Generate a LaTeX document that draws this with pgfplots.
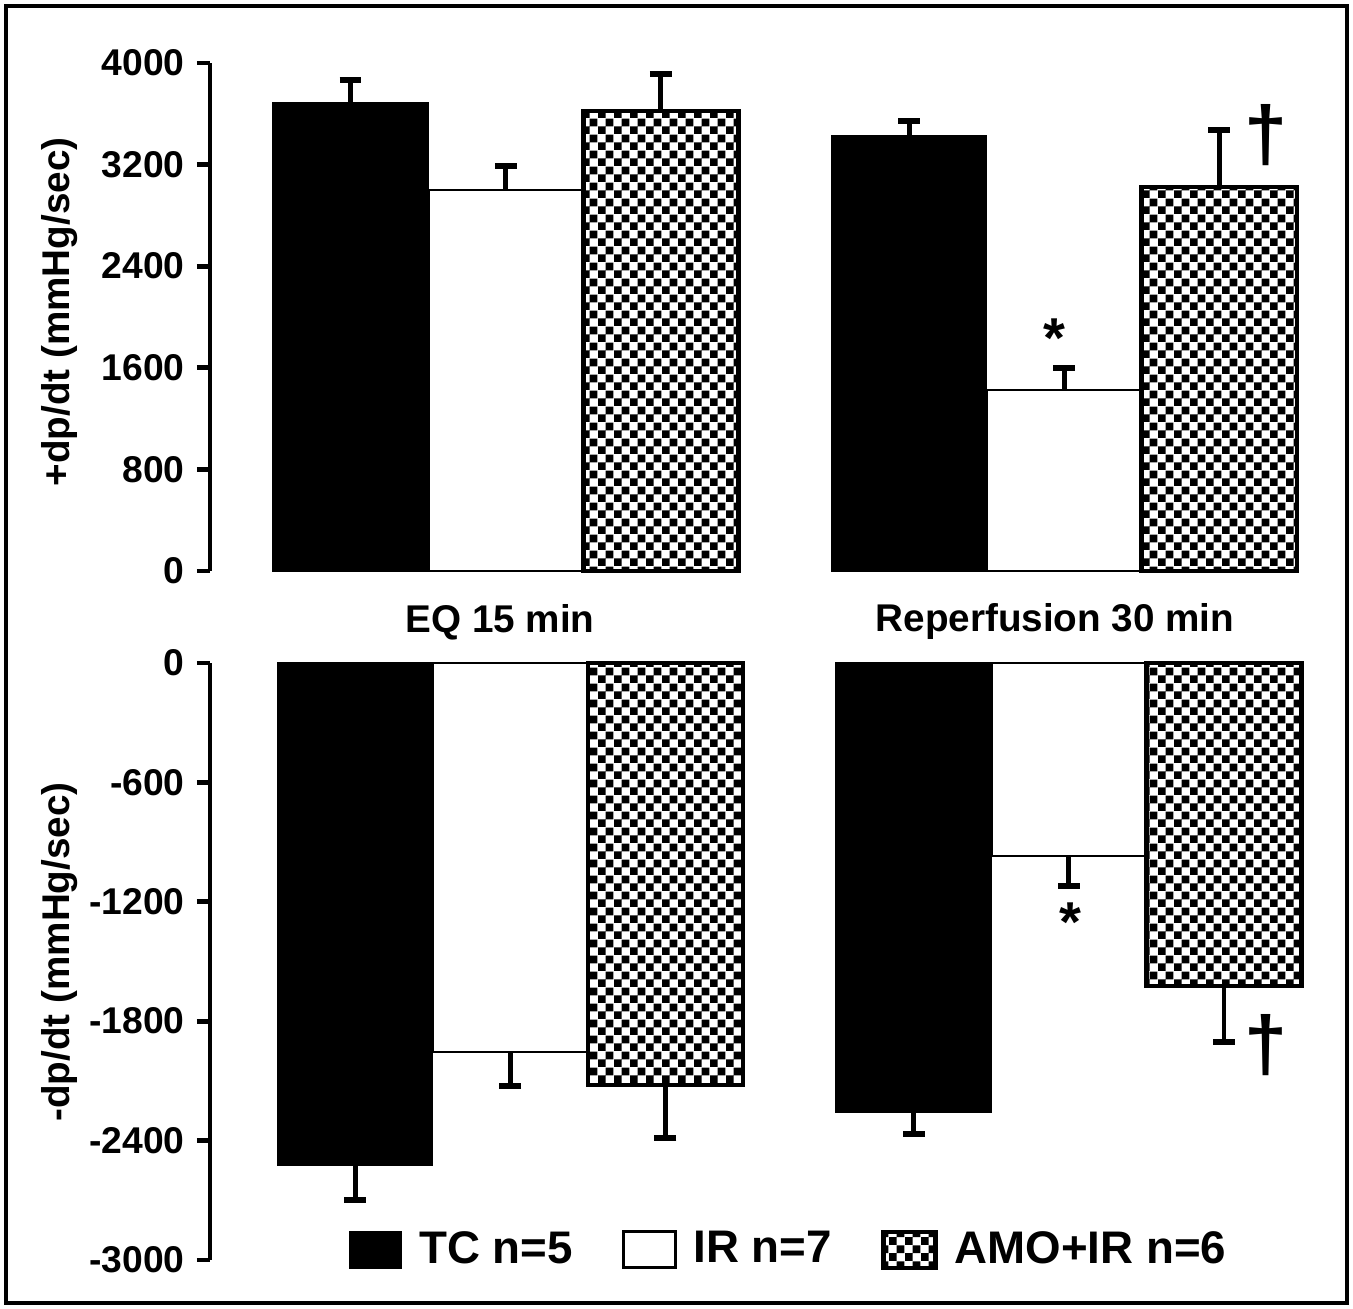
\documentclass[border=0pt]{standalone}
\usepackage{fontspec}
\setmainfont{Liberation Sans}
\usepackage{pgfplots}
\pgfplotsset{compat=1.18}
\usetikzlibrary{patterns}

% checker fill of the AMO+IR bars
\pgfdeclarepatternformonly{checker}{\pgfpointorigin}{\pgfqpoint{4.6pt}{4.6pt}}{\pgfqpoint{4.6pt}{4.6pt}}{%
  \pgfpathrectangle{\pgfpointorigin}{\pgfqpoint{2.3pt}{2.3pt}}%
  \pgfpathrectangle{\pgfqpoint{2.3pt}{2.3pt}}{\pgfqpoint{2.3pt}{2.3pt}}%
  \pgfusepath{fill}}

\pgfplotsset{
  panel/.style={
    scale only axis, width=10.9cm, clip=false,
    axis x line=none, axis y line*=left,
    y axis line style={line width=1.4pt,-},
    ytick style={line width=1.4pt,black},
    tick align=outside, major tick length=0.13cm,
    xtick=\empty,
    ybar, bar width=1,
    tick label style={font=\fontsize{10.6}{12}\selectfont\bfseries},
    ylabel style={font=\fontsize{11}{13}\selectfont\bfseries, anchor=center},
    /pgf/number format/assume math mode=true,
    /pgf/number format/set thousands separator={},
  },
  tc/.style={fill=black, draw=black, bar shift=0pt},
  ir/.style={fill=white, draw=black, line width=0.8pt, bar shift=0pt},
  amo/.style={pattern=checker, draw=black, line width=1.3pt, bar shift=0pt},
  err/.style={error bars/.cd, y dir=#1, y explicit,
    error bar style={line width=1.4pt, draw=black},
    error mark options={rotate=90, line width=1.7pt, mark size=3.1pt, draw=black}},
}

\begin{document}
\begin{tikzpicture}
\useasboundingbox (0,0) rectangle (13.53,13.09);
\draw[line width=0.9pt] (0.06,0.06) rectangle (13.47,13.03);

% +dp/dt
\begin{axis}[panel, at={(2.10cm,7.38cm)}, anchor=south west, height=5.08cm,
  xmin=0.094, xmax=7.12, ymin=0, ymax=4000, ytick={0,800,...,4000},
  ylabel={+dp/dt (mmHg/sec)},
  ylabel style={at={(axis description cs:-0.138,0.51)}}]
\addplot[tc, err=plus] coordinates {(1,3685) +- (0,181) (4.6,3430) +- (0,110)};
\addplot[ir, err=plus] coordinates {(2,3000) +- (0,189) (5.6,1425) +- (0,173)};
\addplot[amo, err=plus] coordinates {(3,3622) +- (0,291) (6.6,3024) +- (0,448)};
\node[font=\fontsize{16}{16}\selectfont\bfseries] at (axis cs:5.54,1835) {*};
\node[font=\fontsize{22}{22}\selectfont\bfseries] at (axis cs:6.9,3433) {†};
\end{axis}

\node[font=\fontsize{11}{13}\selectfont\bfseries] at (5.00,6.87) {EQ 15 min};
\node[font=\fontsize{11}{13}\selectfont\bfseries] at (10.55,6.87) {Reperfusion 30 min};

% -dp/dt
\begin{axis}[panel, at={(2.10cm,0.49cm)}, anchor=south west, height=5.97cm,
  xmin=0.065, xmax=7.09, ymin=-3000, ymax=0, ytick={-3000,-2400,...,0},
  ylabel={-dp/dt (mmHg/sec)},
  ylabel style={at={(axis description cs:-0.138,0.516)}},
  legend columns=3,
  legend image code/.code={\draw[#1] (0cm,-0.18cm) rectangle (0.52cm,0.18cm);},
  legend style={at={(0.533,0.017)}, anchor=center, draw=none, fill=none,
    font=\fontsize{13}{15}\selectfont\bfseries,
    /tikz/every odd column/.append style={column sep=0.1cm},
    /tikz/every even column/.append style={column sep=0.42cm}}]
\addplot[tc, err=minus] coordinates {(1,-2523) +- (0,176) (4.6,-2256) +- (0,111)};
\addlegendentry{TC n=5}
\addplot[ir, err=minus] coordinates {(2,-1955) +- (0,171) (5.6,-970) +- (0,151)};
\addlegendentry{IR n=7}
\addplot[amo, err=minus] coordinates {(3,-2121) +- (0,266) (6.6,-1623) +- (0,281)};
\addlegendentry{AMO+IR n=6}
\node[font=\fontsize{16}{16}\selectfont\bfseries] at (axis cs:5.61,-1301) {*};
\node[font=\fontsize{22}{22}\selectfont\bfseries] at (axis cs:6.87,-1920) {†};
\end{axis}
\end{tikzpicture}
\end{document}
